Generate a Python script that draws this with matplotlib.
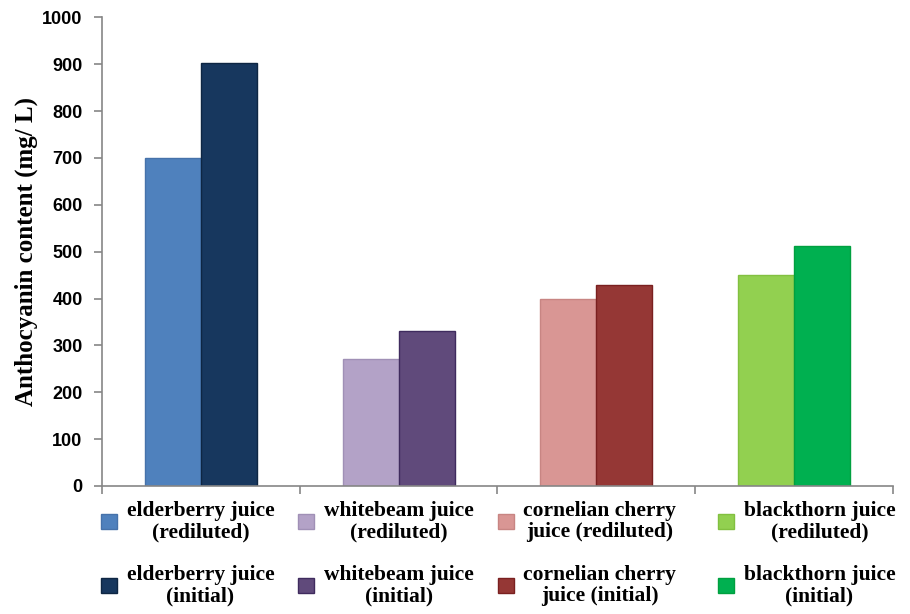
import matplotlib.pyplot as plt
import numpy as np

# anthocyanin content, mg/L
juices = ["elderberry juice", "whitebeam juice", "cornelian cherry\njuice", "blackthorn juice"]
rediluted = [700, 272, 400, 450]
initial = [903, 330, 428, 511]

rediluted_colors = ["#4F81BD", "#B3A2C7", "#D99694", "#92D050"]
initial_colors = ["#17375E", "#604A7B", "#953735", "#00B050"]
rediluted_edges = ["#4672AA", "#A090B6", "#C88583", "#82C040"]
initial_edges = ["#0E2643", "#3F2B5E", "#7A2020", "#00A040"]

legend_red = ["elderberry juice\n(rediluted)", "whitebeam juice\n(rediluted)",
              "cornelian cherry\njuice (rediluted)", "blackthorn juice\n(rediluted)"]
legend_init = ["elderberry juice\n(initial)", "whitebeam juice\n(initial)",
               "cornelian cherry\njuice (initial)", "blackthorn juice\n(initial)"]

serif = ["Liberation Serif", "DejaVu Serif"]
sans = ["Liberation Sans", "DejaVu Sans"]

fig = plt.figure(figsize=(9.1, 6.14), dpi=100)
ax = fig.add_axes([0.1121, 0.2085, 0.8692, 0.7633])

x = np.arange(len(juices))
w = 0.283
bars_r = ax.bar(x - w / 2, rediluted, w, color=rediluted_colors,
                edgecolor=rediluted_edges, linewidth=1)
bars_i = ax.bar(x + w / 2, initial, w, color=initial_colors,
                edgecolor=initial_edges, linewidth=1)

ax.set_xlim(-0.5, len(juices) - 0.5)
ax.set_ylim(0, 1000)
ax.set_yticks(np.arange(0, 1001, 100))
ax.set_xticks(np.arange(-0.5, len(juices), 1.0))
ax.set_xticklabels([])

for s in ["top", "right"]:
    ax.spines[s].set_visible(False)
for s in ["left", "bottom"]:
    ax.spines[s].set_color("#868686")
    ax.spines[s].set_linewidth(1.2)
ax.tick_params(axis="both", direction="out", length=6, width=1.2, color="#868686")
ax.tick_params(axis="y", pad=8)
for lab in ax.get_yticklabels():
    lab.set_family(sans)
    lab.set_fontweight("bold")
    lab.set_fontsize(13)

ax.set_ylabel("Anthocyanin content (mg/ L)", family=serif, fontweight="bold",
              fontsize=18, labelpad=3)

# one small legend per juice, placed under its category
col_x = [0.099, 0.316, 0.535, 0.777]
for i in range(len(juices)):
    leg = fig.legend([bars_r[i], bars_i[i]], [legend_red[i], legend_init[i]],
                     loc="upper left", bbox_to_anchor=(col_x[i], 0.202),
                     frameon=False, handlelength=0.75, handleheight=0.75,
                     handletextpad=0.45, labelspacing=1.05, borderpad=0,
                     prop={"family": serif, "weight": "bold", "size": 15.5})
    for t in leg.get_texts():
        t.set_multialignment("center")
        t.set_linespacing(1.1)

fig.savefig("out.png", dpi=100)
